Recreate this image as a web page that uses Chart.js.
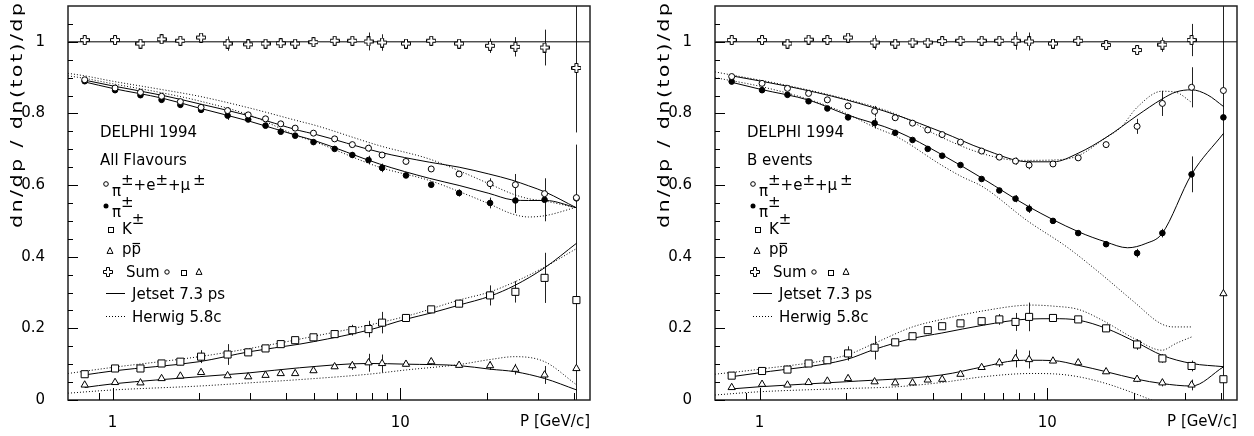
<!DOCTYPE html>
<html><head><meta charset="utf-8">
<script src="https://cdn.jsdelivr.net/npm/chart.js@4.4.1/dist/chart.umd.min.js"></script>
<style>
html,body{margin:0;padding:0;background:#fff;}
#wrap{position:relative;width:1254px;height:436px;overflow:hidden;background:#fff;}
canvas{position:absolute;top:0;}
#c1{left:0;} #c2{left:647px;}
</style></head><body>
<div id="wrap"><canvas id="c1" width="600" height="436"></canvas><canvas id="c2" width="600" height="436"></canvas></div>
<script>
// ---------- axis ----------
const xRange = [0.7, 45.6];
const yRange = [0, 1.1];
const xMajorTicks = [1, 10];
const xTickLabels = ['1', '10'];
const xMinorTicks = [0.9, 2, 3, 4, 5, 6, 7, 8, 9, 20, 30, 40];
const yMajorTicks = [0, 0.2, 0.4, 0.6, 0.8, 1];
const yTickLabels = ['0', '0.2', '0.4', '0.6', '0.8', '1'];
const yMinorTicks = [0.05,0.1,0.15,0.25,0.3,0.35,0.45,0.5,0.55,0.65,0.7,0.75,0.85,0.9,0.95,1.05];
const unityX = [0.7, 45.6];
const unityY = [1, 1];

// ---------- measured momentum bins (GeV/c) ----------
const momentumBins = [0.8,1.02,1.25,1.48,1.72,2.03,2.51,2.96,3.4,3.84,4.31,4.99,5.91,6.81,7.75,8.64,10.46,12.8,16.0,20.5,25.1,31.7,40.9];

// ---------- All flavours ----------
const sumAll = [1.005,1.005,0.995,1.007,1.003,1.012,0.995,0.993,0.995,0.996,0.995,0.999,1.003,1.003,1.001,0.998,0.995,1.003,0.995,0.989,0.986,0.984,0.927];
const sumAllErr = [0.006,0.006,0.006,0.006,0.006,0.008,0.02,0.006,0.006,0.006,0.006,0.006,0.008,0.012,0.025,0.023,0.006,0.006,0.008,0.02,0.027,0.05,0.18];
const piEmuAll = [0.894,0.871,0.859,0.848,0.833,0.817,0.808,0.796,0.785,0.771,0.759,0.745,0.729,0.713,0.703,0.684,0.666,0.645,0.631,0.604,0.601,0.576,0.565];
const piEmuAllErr = [0.004,0.004,0.004,0.004,0.004,0.005,0.01,0.004,0.004,0.004,0.004,0.004,0.005,0.006,0.01,0.008,0.006,0.006,0.008,0.015,0.03,0.025,0.12];
const piAll = [0.890,0.865,0.851,0.838,0.824,0.810,0.794,0.783,0.766,0.749,0.738,0.720,0.701,0.684,0.670,0.648,0.627,0.601,0.578,0.550,0.557,0.559,0.563];
const piAllErr = [0.006,0.006,0.006,0.006,0.006,0.008,0.012,0.006,0.006,0.006,0.006,0.006,0.006,0.008,0.012,0.012,0.006,0.008,0.01,0.015,0.035,0.06,0.15];
const kAll = [0.072,0.088,0.088,0.102,0.107,0.121,0.127,0.133,0.144,0.156,0.167,0.175,0.184,0.195,0.198,0.216,0.229,0.253,0.269,0.292,0.302,0.341,0.279];
const kAllErr = [0.005,0.008,0.008,0.006,0.01,0.018,0.029,0.006,0.006,0.006,0.006,0.006,0.006,0.015,0.023,0.03,0.006,0.006,0.01,0.028,0.03,0.07,0.16];
const pAll = [0.042,0.049,0.048,0.060,0.067,0.077,0.068,0.065,0.069,0.074,0.074,0.082,0.093,0.096,0.104,0.102,0.100,0.107,0.097,0.096,0.086,0.070,0.088];
const pAllErr = [0.004,0.004,0.004,0.004,0.004,0.004,0.004,0.004,0.004,0.004,0.004,0.004,0.006,0.012,0.025,0.025,0.006,0.006,0.006,0.012,0.015,0.025,0.1];

// model curves, all flavours
const jetsetPiAllP = [0.8,1,1.5,2,3,4.47,5,8.46,12.6,16,20.3,24.4,27.9,32,40.8];
const jetsetPiEmuAll = [0.893,0.877,0.850,0.827,0.793,0.752,0.743,0.692,0.664,0.650,0.631,0.614,0.598,0.580,0.537];
const jetsetPiAll = [0.888,0.870,0.842,0.815,0.778,0.736,0.725,0.659,0.619,0.599,0.577,0.559,0.557,0.557,0.537];
const herwigPiAllP = [0.7,0.8,1,1.5,2,3,4.47,5,8.46,12.6,16,20.3,24.4,27.9,32,40.8];
const herwigPiEmuAll = [0.912,0.905,0.890,0.866,0.848,0.815,0.778,0.768,0.710,0.673,0.640,0.604,0.576,0.562,0.555,0.537];
const herwigPiAll = [0.905,0.898,0.883,0.857,0.835,0.795,0.735,0.722,0.650,0.613,0.582,0.548,0.520,0.511,0.515,0.538];
const jetsetKAllP = [0.8,1,2,3,4.47,5,7.75,10.5,12.8,16,20.5,25,31.7,41];
const jetsetKAll = [0.070,0.081,0.107,0.135,0.156,0.163,0.195,0.226,0.243,0.265,0.290,0.320,0.369,0.438];
const herwigKAllP = [0.7,1,2,3,4.47,10.5,16,20.5,25,31.7,41];
const herwigKAll = [0.074,0.091,0.121,0.144,0.170,0.234,0.279,0.302,0.330,0.371,0.423];
const jetsetPAllP = [0.8,1,2,3,4.47,7.75,10.5,16,20.5,25,31.7,41];
const jetsetPAll = [0.035,0.045,0.065,0.076,0.090,0.102,0.100,0.096,0.086,0.079,0.060,0.028];
const herwigPAllP = [0.7,1,2,3,4.47,7.75,10.5,16,20.5,25,31.7,41];
const herwigPAll = [0.019,0.028,0.039,0.048,0.057,0.072,0.084,0.099,0.113,0.121,0.107,0.042];

// ---------- B events ----------
const sumB = [1.005,1.005,0.995,1.006,1.005,1.012,0.998,0.995,0.998,0.998,1.002,1.003,1.003,1.003,1.003,1.001,0.995,1.003,0.991,0.977,0.992,1.005,1.2];
const sumBErr = [0.006,0.006,0.006,0.006,0.006,0.008,0.02,0.006,0.006,0.006,0.006,0.006,0.006,0.01,0.025,0.025,0.006,0.006,0.006,0.01,0.02,0.045,1.5];
const piEmuB = [0.903,0.884,0.870,0.856,0.838,0.821,0.806,0.788,0.773,0.754,0.741,0.720,0.695,0.678,0.667,0.656,0.659,0.676,0.713,0.764,0.828,0.873,0.864];
const piEmuBErr = [0.005,0.005,0.005,0.005,0.005,0.005,0.015,0.005,0.005,0.005,0.005,0.005,0.005,0.005,0.01,0.012,0.005,0.005,0.008,0.021,0.035,0.056,0.6];
const piB = [0.889,0.865,0.852,0.834,0.814,0.789,0.773,0.746,0.726,0.701,0.682,0.656,0.617,0.585,0.562,0.534,0.500,0.466,0.435,0.410,0.466,0.630,0.789];
const piBErr = [0.005,0.005,0.005,0.005,0.005,0.005,0.015,0.005,0.005,0.005,0.005,0.005,0.005,0.005,0.01,0.012,0.005,0.005,0.008,0.012,0.012,0.05,0.6];
const kB = [0.068,0.081,0.085,0.102,0.111,0.130,0.146,0.161,0.178,0.195,0.206,0.214,0.220,0.225,0.218,0.232,0.229,0.225,0.200,0.155,0.116,0.095,0.058];
const kBErr = [0.005,0.006,0.006,0.006,0.008,0.02,0.033,0.006,0.01,0.01,0.006,0.006,0.006,0.015,0.025,0.04,0.006,0.006,0.01,0.015,0.012,0.015,0.3];
const pB = [0.035,0.044,0.042,0.049,0.053,0.060,0.051,0.048,0.048,0.056,0.058,0.072,0.091,0.104,0.116,0.113,0.109,0.104,0.079,0.058,0.048,0.042,0.297];
const pBErr = [0.004,0.004,0.004,0.004,0.004,0.004,0.004,0.004,0.004,0.004,0.004,0.004,0.006,0.012,0.025,0.025,0.006,0.006,0.006,0.008,0.01,0.015,0.3];

// model curves, B events
const jetsetPiEmuBP = [0.8,1.25,2,3,4.3,6,8.6,10.5,12.8,16,20.5,25,28,31.7,36,41];
const jetsetPiEmuB = [0.905,0.876,0.838,0.795,0.748,0.700,0.665,0.665,0.689,0.733,0.794,0.840,0.860,0.866,0.852,0.819];
const jetsetPiBP = [0.8,1,1.5,2,3,4.3,6,8.6,12.8,16,19,22,25,31.7,41];
const jetsetPiB = [0.887,0.868,0.836,0.797,0.750,0.685,0.617,0.540,0.470,0.441,0.425,0.437,0.464,0.630,0.745];
const herwigPiEmuBP = [0.7,1.25,2,3,4.3,6,8,10.5,12.8,16,18,20.5,25,28,31.7];
const herwigPiEmuB = [0.916,0.878,0.840,0.797,0.733,0.687,0.669,0.670,0.682,0.733,0.761,0.817,0.862,0.859,0.831];
const herwigPiBP = [0.7,1,1.5,2,2.5,3,4.3,5,6,8.5,11.7,15.3,20,24.7,27.5,31.7];
const herwigPiB = [0.900,0.876,0.838,0.800,0.762,0.735,0.655,0.625,0.594,0.501,0.427,0.353,0.274,0.214,0.204,0.204];
const jetsetKBP = [0.8,1,2,2.5,3.4,4.3,6,8.6,10.5,12.8,16,20.5,25,31.7,41];
const jetsetKB = [0.065,0.076,0.113,0.141,0.172,0.187,0.209,0.226,0.227,0.223,0.200,0.160,0.125,0.102,0.093];
const herwigKBP = [0.7,1,2,2.5,3.4,4.3,6,8.8,10.5,12.8,15.5,20,25,28,31.7];
const herwigKB = [0.072,0.086,0.125,0.158,0.204,0.225,0.249,0.265,0.262,0.253,0.223,0.172,0.139,0.158,0.176];
const jetsetPBP = [0.8,1,2,4.3,6,7.75,8.8,10.5,12.8,16,20.5,25,31.7,41];
const jetsetPB = [0.031,0.037,0.051,0.070,0.093,0.110,0.111,0.110,0.097,0.079,0.058,0.046,0.039,0.093];
const herwigPBP = [0.7,1,2,3,4.3,6,8.8,10.5,12.8,16,20,23,27];
const herwigPB = [0.014,0.023,0.032,0.037,0.049,0.065,0.074,0.073,0.065,0.046,0.019,0.0,-0.02];

// ---------- drawing ----------
const FONT = "'DejaVu Sans', 'Liberation Sans', sans-serif";
Chart.defaults.font.family = FONT;
Chart.defaults.font.size = 15;
Chart.defaults.color = '#000';

function xy(xs, ys) { return xs.map((x, i) => ({ x: x, y: ys[i] })); }

function makeCross() {
  const c = document.createElement('canvas');
  c.width = 10; c.height = 10;
  const g = c.getContext('2d');
  const s = 5, a = 1.5, L = 4.5;
  const pts = [[-a,-L],[a,-L],[a,-a],[L,-a],[L,a],[a,a],[a,L],[-a,L],[-a,a],[-L,a],[-L,-a],[-a,-a]];
  g.beginPath();
  pts.forEach(([px, py], i) => i ? g.lineTo(s + px, s + py) : g.moveTo(s + px, s + py));
  g.closePath();
  g.fillStyle = '#fff'; g.fill();
  g.strokeStyle = '#000'; g.lineWidth = 1; g.stroke();
  return c;
}
const crossImg = makeCross();

function rich(ctx, x, y, parts) {
  for (const p of parts) {
    x += (p.pre || 0);
    ctx.fillText(p.t, x, y + (p.dy || 0));
    x += ctx.measureText(p.t).width;
  }
  return x;
}

const decor = {
  id: 'decor',
  beforeDatasetsDraw(chart) {
    const { ctx, chartArea: a, scales } = chart;
    const xs = scales.x, ys = scales.y;
    ctx.save();
    ctx.beginPath(); ctx.rect(a.left, a.top, a.right - a.left, a.bottom - a.top); ctx.clip();
    ctx.strokeStyle = '#222'; ctx.lineWidth = 1;
    chart.data.datasets.forEach(ds => {
      if (!ds.errorBars) return;
      ds.data.forEach((pt, i) => {
        const e = ds.errorBars[i];
        if (!e) return;
        const px = Math.round(xs.getPixelForValue(pt.x)) + 0.5;
        ctx.beginPath();
        ctx.moveTo(px, ys.getPixelForValue(pt.y - e));
        ctx.lineTo(px, ys.getPixelForValue(pt.y + e));
        ctx.stroke();
      });
    });
    ctx.restore();
  },
  afterDraw(chart, args, opts) {
    const { ctx, chartArea: a, scales } = chart;
    const xs = scales.x, ys = scales.y;
    ctx.save();
    // frame
    ctx.strokeStyle = '#222'; ctx.lineWidth = 1.5;
    ctx.strokeRect(a.left, a.top, a.right - a.left, a.bottom - a.top);
    // ticks
    ctx.lineWidth = 1; ctx.strokeStyle = '#000';
    const tickX = (v, len) => {
      const px = Math.round(xs.getPixelForValue(v)) + 0.5;
      ctx.beginPath(); ctx.moveTo(px, a.bottom); ctx.lineTo(px, a.bottom - len); ctx.stroke();
    };
    const tickY = (v, len) => {
      const py = Math.round(ys.getPixelForValue(v)) + 0.5;
      ctx.beginPath(); ctx.moveTo(a.left, py); ctx.lineTo(a.left + len, py); ctx.stroke();
    };
    xMajorTicks.forEach(v => tickX(v, 12));
    xMinorTicks.forEach(v => tickX(v, 7));
    yMajorTicks.forEach(v => tickY(v, 10));
    yMinorTicks.forEach(v => tickY(v, 5));

    ctx.fillStyle = '#000';
    // y title, stretched along its direction
    const title = 'dn/dp / dn(tot)/dp';
    ctx.font = '16px ' + FONT;
    const nat = ctx.measureText(title).width;
    const k = 1.3;
    const spacing = (225 - k * nat) / (title.length - 1);
    ctx.save();
    ctx.translate(21.5, 228);
    ctx.rotate(-Math.PI / 2);
    ctx.scale(k, 1);
    ctx.textBaseline = 'alphabetic'; ctx.textAlign = 'left';
    let cx = 0;
    for (const ch of title) { ctx.fillText(ch, cx, 0); cx += ctx.measureText(ch).width + spacing / k; }
    ctx.restore();

    // x title
    ctx.font = '15px ' + FONT;
    ctx.textAlign = 'right'; ctx.textBaseline = 'alphabetic';
    ctx.fillText('P [GeV/c]', a.right, 425.5);

    // legend block
    ctx.textAlign = 'left';
    const L0 = a.left;
    ctx.fillText('DELPHI 1994', L0 + 32, 137);
    ctx.fillText(opts.flavour, L0 + 32, 165);

    const openCircle = (x, y, r) => { ctx.beginPath(); ctx.arc(x, y, r, 0, Math.PI * 2); ctx.fillStyle = '#fff'; ctx.fill(); ctx.strokeStyle = '#000'; ctx.lineWidth = 1; ctx.stroke(); ctx.fillStyle = '#000'; };
    const fullCircle = (x, y, r) => { ctx.beginPath(); ctx.arc(x, y, r, 0, Math.PI * 2); ctx.fillStyle = '#000'; ctx.fill(); };
    const openSquare = (x, y, s) => { ctx.strokeStyle = '#000'; ctx.lineWidth = 1; ctx.strokeRect(Math.round(x - s / 2) + 0.5, Math.round(y - s / 2) + 0.5, s, s); };
    const openTri = (x, y, s) => { ctx.beginPath(); ctx.moveTo(x, y - s * 0.6); ctx.lineTo(x + s / 2, y + s * 0.4); ctx.lineTo(x - s / 2, y + s * 0.4); ctx.closePath(); ctx.strokeStyle = '#000'; ctx.lineWidth = 1; ctx.stroke(); };

    // pi+e+mu
    openCircle(L0 + 38, 184, 2.3);
    rich(ctx, L0 + 44, 190, [{ t: 'π', dy: 6 }, { t: '±', dy: -5 }, { t: '+e' }, { t: '±', dy: -5 }, { t: '+μ' }, { t: '±', dy: -5, pre: 3 }]);
    // pi
    fullCircle(L0 + 38, 206, 2.5);
    rich(ctx, L0 + 44, 217, [{ t: 'π' }, { t: '±', dy: -10 }]);
    // K
    openSquare(L0 + 42, 229, 5);
    rich(ctx, L0 + 54, 233.5, [{ t: 'K' }, { t: '±', dy: -10 }]);
    // p pbar
    openTri(L0 + 42, 251, 6);
    const pw = ctx.measureText('p').width;
    ctx.fillText('p', L0 + 54, 253.5);
    ctx.fillText('p', L0 + 54 + pw, 253.5);
    ctx.beginPath(); ctx.lineWidth = 1.2; ctx.strokeStyle = '#000';
    ctx.moveTo(L0 + 54 + pw + 1, 243.5); ctx.lineTo(L0 + 54 + 2 * pw - 1, 243.5); ctx.stroke();
    // Sum
    ctx.drawImage(crossImg, L0 + 40 - 5, 272 - 5);
    ctx.fillText('Sum', L0 + 58, 277);
    openCircle(L0 + 99, 272, 2.2);
    openSquare(L0 + 115, 272, 5);
    openTri(L0 + 131, 272, 6);
    // models
    ctx.strokeStyle = '#000'; ctx.lineWidth = 1;
    ctx.beginPath(); ctx.moveTo(L0 + 38, 293.5); ctx.lineTo(L0 + 57, 293.5); ctx.stroke();
    ctx.fillText('Jetset 7.3 ps', L0 + 64, 298.5);
    ctx.setLineDash([1, 2]);
    ctx.beginPath(); ctx.moveTo(L0 + 38, 316.5); ctx.lineTo(L0 + 57, 316.5); ctx.stroke();
    ctx.setLineDash([]);
    ctx.fillText('Herwig 5.8c', L0 + 64, 321.5);
    ctx.restore();
  }
};

function pointSet(label, ys, errs, style) {
  return Object.assign({ label: label, data: xy(momentumBins, ys), errorBars: errs, showLine: false,
    pointBorderColor: '#000', pointBorderWidth: 1 }, style);
}
function curve(label, xs, ys, dashed) {
  return { label: label, data: xy(xs, ys), showLine: true, pointRadius: 0, borderColor: '#000',
    borderWidth: 1, borderDash: dashed ? [1, 2] : [], cubicInterpolationMode: 'monotone', fill: false };
}
function noPad(s) { s.paddingTop = 0; s.paddingBottom = 0; s.paddingLeft = 0; s.paddingRight = 0; }

function makeChart(id, flavour, d) {
  const openC = { pointStyle: 'circle', pointRadius: 3, pointBackgroundColor: '#fff' };
  const fullC = { pointStyle: 'circle', pointRadius: 2.8, pointBackgroundColor: '#000' };
  const sq = { pointStyle: 'rect', pointRadius: 5, pointBackgroundColor: '#fff' };
  const tri = { pointStyle: 'triangle', pointRadius: 4.2, pointBackgroundColor: '#fff' };
  const cr = { pointStyle: crossImg, pointRadius: 5 };
  new Chart(document.getElementById(id), {
    type: 'scatter',
    data: {
      datasets: [
        pointSet('Sum', d.sum, d.sumErr, cr),
        pointSet('π±+e±+μ±', d.piEmu, d.piEmuErr, openC),
        pointSet('π±', d.pi, d.piErr, fullC),
        pointSet('K±', d.k, d.kErr, sq),
        pointSet('pp̄', d.p, d.pErr, tri),
        curve('Sum model', unityX, unityY, false),
        curve('Jetset π±+e±+μ±', d.jPiEmuP, d.jPiEmu, false),
        curve('Jetset π±', d.jPiP, d.jPi, false),
        curve('Herwig π±+e±+μ±', d.hPiEmuP, d.hPiEmu, true),
        curve('Herwig π±', d.hPiP, d.hPi, true),
        curve('Jetset K±', d.jKP, d.jK, false),
        curve('Herwig K±', d.hKP, d.hK, true),
        curve('Jetset pp̄', d.jPP, d.jP, false),
        curve('Herwig pp̄', d.hPP, d.hP, true)
      ]
    },
    options: {
      responsive: false, animation: false, devicePixelRatio: 1, events: [],
      layout: { padding: { left: 0, right: 10, top: 5, bottom: 0 } },
      plugins: { legend: { display: false }, tooltip: { enabled: false }, decor: { flavour: flavour } },
      scales: {
        x: {
          type: 'logarithmic', min: xRange[0], max: xRange[1],
          grid: { display: false }, border: { display: false },
          afterFit(s) { s.height = 36; noPad(s); },
          ticks: {
            autoSkip: false, maxRotation: 0, minRotation: 0, padding: 6, color: '#000',
            font: { size: 15 },
            callback(v) {
              const i = xMajorTicks.findIndex(m => Math.abs(m - v) < 1e-9);
              return i >= 0 ? xTickLabels[i] : '';
            }
          }
        },
        y: {
          type: 'linear', min: yRange[0], max: yRange[1],
          grid: { display: false }, border: { display: false },
          afterFit(s) { s.width = 68; noPad(s); },
          ticks: {
            stepSize: 0.2, includeBounds: false, padding: 15, color: '#000', font: { size: 15 },
            callback(v) {
              const i = yMajorTicks.findIndex(m => Math.abs(m - v) < 1e-6);
              return i >= 0 ? yTickLabels[i] : '';
            }
          }
        }
      }
    },
    plugins: [decor]
  });
}

makeChart('c1', 'All Flavours', {
  sum: sumAll, sumErr: sumAllErr, piEmu: piEmuAll, piEmuErr: piEmuAllErr, pi: piAll, piErr: piAllErr,
  k: kAll, kErr: kAllErr, p: pAll, pErr: pAllErr,
  jPiEmuP: jetsetPiAllP, jPiEmu: jetsetPiEmuAll, jPiP: jetsetPiAllP, jPi: jetsetPiAll,
  hPiEmuP: herwigPiAllP, hPiEmu: herwigPiEmuAll, hPiP: herwigPiAllP, hPi: herwigPiAll,
  jKP: jetsetKAllP, jK: jetsetKAll, hKP: herwigKAllP, hK: herwigKAll,
  jPP: jetsetPAllP, jP: jetsetPAll, hPP: herwigPAllP, hP: herwigPAll
});
makeChart('c2', 'B events', {
  sum: sumB, sumErr: sumBErr, piEmu: piEmuB, piEmuErr: piEmuBErr, pi: piB, piErr: piBErr,
  k: kB, kErr: kBErr, p: pB, pErr: pBErr,
  jPiEmuP: jetsetPiEmuBP, jPiEmu: jetsetPiEmuB, jPiP: jetsetPiBP, jPi: jetsetPiB,
  hPiEmuP: herwigPiEmuBP, hPiEmu: herwigPiEmuB, hPiP: herwigPiBP, hPi: herwigPiB,
  jKP: jetsetKBP, jK: jetsetKB, hKP: herwigKBP, hK: herwigKB,
  jPP: jetsetPBP, jP: jetsetPB, hPP: herwigPBP, hP: herwigPB
});
</script></body></html>
